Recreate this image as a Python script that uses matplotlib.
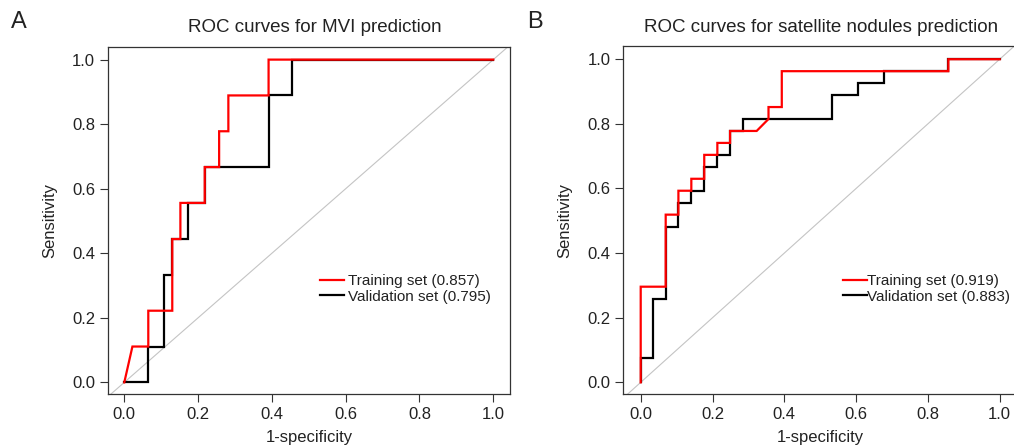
import matplotlib
matplotlib.use("Agg")
import matplotlib.pyplot as plt
import numpy as np

plt.rcParams['font.family'] = ['Liberation Sans', 'DejaVu Sans']

# Panel A: MVI prediction
a_train_fpr = [0, 0.022, 0.065, 0.065, 0.130, 0.130, 0.152, 0.152, 0.218, 0.218,
               0.257, 0.257, 0.282, 0.282, 0.391, 0.391, 1.0]
a_train_tpr = [0, 0.111, 0.111, 0.222, 0.222, 0.444, 0.444, 0.556, 0.556, 0.667,
               0.667, 0.778, 0.778, 0.889, 0.889, 1.0, 1.0]
a_val_fpr = [0, 0.063, 0.063, 0.1075, 0.1075, 0.130, 0.130, 0.1725, 0.1725, 0.218,
             0.218, 0.391, 0.391, 0.4535, 0.4535, 1.0]
a_val_tpr = [0, 0, 0.111, 0.111, 0.333, 0.333, 0.444, 0.444, 0.556, 0.556,
             0.667, 0.667, 0.889, 0.889, 1.0, 1.0]

# Panel B: satellite nodules prediction
b_train_fpr = [0, 0, 0.0696, 0.0696, 0.105, 0.105, 0.141, 0.141, 0.177, 0.177,
               0.2135, 0.2135, 0.249, 0.249, 0.323, 0.356, 0.356, 0.393, 0.393,
               0.857, 0.857, 1.0]
b_train_tpr = [0, 0.296, 0.296, 0.519, 0.519, 0.593, 0.593, 0.630, 0.630, 0.704,
               0.704, 0.741, 0.741, 0.778, 0.778, 0.815, 0.852, 0.852, 0.963,
               0.963, 1.0, 1.0]
b_val_fpr = [0, 0, 0.0353, 0.0353, 0.0696, 0.0696, 0.105, 0.105, 0.141, 0.141,
             0.177, 0.177, 0.2135, 0.2135, 0.249, 0.249, 0.285, 0.285, 0.534,
             0.534, 0.606, 0.606, 0.678, 0.678, 0.857, 0.857, 1.0]
b_val_tpr = [0, 0.074, 0.074, 0.259, 0.259, 0.481, 0.481, 0.556, 0.556, 0.593,
             0.593, 0.667, 0.667, 0.704, 0.704, 0.778, 0.778, 0.815, 0.815,
             0.889, 0.889, 0.926, 0.926, 0.963, 0.963, 1.0, 1.0]

titles = ["ROC curves for MVI prediction", "ROC curves for satellite nodules prediction"]
panel_letters = ["A", "B"]
train_labels = ["Training set (0.857)", "Training set (0.919)"]
val_labels = ["Validation set (0.795)", "Validation set (0.883)"]
ticks = [0.0, 0.2, 0.4, 0.6, 0.8, 1.0]
tick_labels = ["0.0", "0.2", "0.4", "0.6", "0.8", "1.0"]

W, H = 1014, 448
fig = plt.figure(figsize=(W / 100, H / 100), dpi=100)

def px_axes(l, r, t, b):
    return fig.add_axes([l / W, 1 - b / H, (r - l) / W, (b - t) / H])

axA = px_axes(107.7, 510, 46.7, 394.3)
axB = px_axes(623.3, 1017.1, 46.3, 394.3)

txt = '#222222'
spine_c = '#333333'
data = [(a_train_fpr, a_train_tpr, a_val_fpr, a_val_tpr),
        (b_train_fpr, b_train_tpr, b_val_fpr, b_val_tpr)]
xlims = [(-0.045, 1.0453), (-0.0485, 1.0485)]
leg_pos = [(320, 274), (843, 274)]
leg_pad = [0.25, 0.0]
title_x = [315, 821]

for i, ax in enumerate([axA, axB]):
    tf, tt, vf, vt = data[i]
    ax.axline((0, 0), (1, 1), color='#c4c4c4', lw=0.8, zorder=1)
    lv, = ax.plot(vf, vt, color='black', lw=1.6, zorder=2, solid_joinstyle='miter',
                  label=val_labels[i])
    lt, = ax.plot(tf, tt, color='#ff0000', lw=1.6, zorder=3, solid_joinstyle='miter',
                  label=train_labels[i])
    ax.set_xlim(*xlims[i])
    ax.set_ylim(-0.037, 1.04)
    ax.set_xticks(ticks)
    ax.set_xticklabels(tick_labels)
    ax.set_yticks(ticks)
    ax.set_yticklabels(tick_labels)
    ax.tick_params(direction='out', length=6, width=0.8, colors=spine_c,
                   labelcolor=txt, labelsize=12)
    ax.tick_params(axis='x', pad=3)
    ax.tick_params(axis='y', pad=3)
    for s in ax.spines.values():
        s.set_color(spine_c)
        s.set_linewidth(0.9)
    ax.set_xlabel("1-specificity", fontsize=12, color=txt, labelpad=6)
    ax.set_ylabel("Sensitivity", fontsize=12, color=txt, labelpad=11)
    fig.text(title_x[i] / W, 1 - 27 / H, titles[i], fontsize=13.5, color=txt,
             ha='center', va='center')
    lx, ly = leg_pos[i]
    ax.legend(handles=[lt, lv], loc='upper left',
              bbox_to_anchor=(lx / W, 1 - ly / H), bbox_transform=fig.transFigure,
              frameon=False, fontsize=11, handlelength=1.55, handletextpad=leg_pad[i],
              labelspacing=0.12, borderpad=0, borderaxespad=0,
              labelcolor=txt)

fig.text(11 / W, 1 - 22 / H, panel_letters[0], fontsize=17, color=txt, va='center', ha='left')
fig.text(527 / W, 1 - 22 / H, panel_letters[1], fontsize=17, color=txt, va='center', ha='left')

fig.savefig("out.png", dpi=100)
